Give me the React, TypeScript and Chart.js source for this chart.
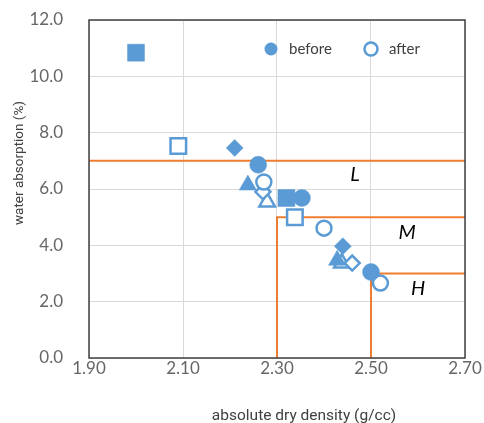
import React, { useEffect, useRef } from "react";
import { Chart, registerables } from "chart.js";

Chart.register(...registerables);

// ---- data ----
const xTickValues = [1.9, 2.1, 2.3, 2.5, 2.7];
const yTickValues = [0, 2, 4, 6, 8, 10, 12];

const beforeCircleX = [2.26, 2.353, 2.5];
const beforeCircleY = [6.86, 5.68, 3.05];
const afterCircleX = [2.272, 2.4, 2.52];
const afterCircleY = [6.25, 4.61, 2.66];

const beforeSquareX = [2.0, 2.32];
const beforeSquareY = [10.84, 5.68];
const afterSquareX = [2.09, 2.338];
const afterSquareY = [7.53, 5.0];

const beforeDiamondX = [2.21, 2.44];
const beforeDiamondY = [7.46, 3.97];
const afterDiamondX = [2.27, 2.46];
const afterDiamondY = [5.9, 3.37];

const beforeTriangleX = [2.238, 2.428];
const beforeTriangleY = [6.14, 3.47];
const afterTriangleX = [2.279, 2.438];
const afterTriangleY = [5.54, 3.37];

const lineLX = [1.9, 2.7];
const lineLY = [7, 7];
const lineMX = [2.3, 2.3, 2.7];
const lineMY = [0, 5, 5];
const lineHX = [2.5, 2.5, 2.7];
const lineHY = [0, 3, 3];

const classLabels = ["L", "M", "H"];
const classLabelX = [2.466, 2.577, 2.6];
const classLabelY = [6.5, 4.47, 2.45];

const legendLabels = ["before", "after"];
const xTitle = "absolute dry density (g/cc)";
const yTitle = "water absorption (%)";

const BLUE = "#5B9BD5";
const ORANGE = "#ED7D31";
const FONT = "Lato, 'Open Sans', sans-serif";
const TITLE_FONT = "Roboto, Lato, sans-serif";

const zip = (xs: number[], ys: number[]) => xs.map((x, i) => ({ x, y: ys[i] }));

export default function App() {
  const ref = useRef<HTMLCanvasElement | null>(null);

  useEffect(() => {
    if (!ref.current) return;

    const pointSet = (label: string, xs: number[], ys: number[], style: string, filled: boolean, r: number) => ({
      label,
      data: zip(xs, ys),
      pointStyle: style,
      pointRadius: r,
      pointHoverRadius: r,
      pointBackgroundColor: filled ? BLUE : "#ffffff",
      pointBorderColor: BLUE,
      pointBorderWidth: filled ? 0.5 : 2.5,
      backgroundColor: filled ? BLUE : "#ffffff",
      borderColor: BLUE,
      showLine: false,
    });
    const lineSet = (label: string, xs: number[], ys: number[]) => ({
      label,
      data: zip(xs, ys),
      showLine: true,
      borderColor: ORANGE,
      borderWidth: 2,
      pointRadius: 0,
      fill: false,
    });

    const overlay = {
      id: "overlay",
      afterDatasetsDraw(chart: any) {
        const { ctx, chartArea: a, scales } = chart;
        ctx.save();
        // plot border
        ctx.strokeStyle = "#404040";
        ctx.lineWidth = 1.5;
        ctx.strokeRect(a.left, a.top, a.right - a.left, a.bottom - a.top);
        // class labels
        ctx.fillStyle = "#000000";
        ctx.font = `italic 20px ${FONT}`;
        ctx.textAlign = "center";
        ctx.textBaseline = "middle";
        classLabels.forEach((t, i) => {
          ctx.fillText(t, scales.x.getPixelForValue(classLabelX[i]), scales.y.getPixelForValue(classLabelY[i]));
        });
        // legend
        const ly = 49;
        const lx = [271, 371];
        ctx.font = `15px ${FONT}`;
        ctx.textAlign = "left";
        legendLabels.forEach((t, i) => {
          ctx.beginPath();
          ctx.arc(lx[i], ly, 6.5, 0, Math.PI * 2);
          if (i === 0) {
            ctx.fillStyle = BLUE;
            ctx.fill();
          } else {
            ctx.fillStyle = "#ffffff";
            ctx.fill();
            ctx.lineWidth = 2.5;
            ctx.strokeStyle = BLUE;
            ctx.stroke();
          }
          ctx.fillStyle = "#404040";
          ctx.fillText(t, lx[i] + 18, ly);
        });
        // axis titles
        ctx.fillStyle = "#404040";
        ctx.textAlign = "center";
        ctx.textBaseline = "middle";
        ctx.font = `15.5px ${TITLE_FONT}`;
        ctx.fillText(xTitle, 304, 416);
        ctx.font = `13.5px ${TITLE_FONT}`;
        ctx.translate(20, 163);
        ctx.rotate(-Math.PI / 2);
        ctx.fillText(yTitle, 0, 0);
        ctx.restore();
      },
    };

    const chart = new Chart(ref.current, {
      type: "scatter",
      data: {
        datasets: [
          pointSet("before", beforeCircleX, beforeCircleY, "circle", true, 8.5),
          pointSet("after", afterCircleX, afterCircleY, "circle", false, 7.5),
          pointSet("before sq", beforeSquareX, beforeSquareY, "rect", true, 12),
          pointSet("after sq", afterSquareX, afterSquareY, "rect", false, 11),
          pointSet("before dia", beforeDiamondX, beforeDiamondY, "rectRot", true, 8.5),
          pointSet("after dia", afterDiamondX, afterDiamondY, "rectRot", false, 7.5),
          pointSet("before tri", beforeTriangleX, beforeTriangleY, "triangle", true, 10),
          pointSet("after tri", afterTriangleX, afterTriangleY, "triangle", false, 9),
          lineSet("L", lineLX, lineLY),
          lineSet("M", lineMX, lineMY),
          lineSet("H", lineHX, lineHY),
        ] as any,
      },
      options: {
        animation: false,
        responsive: true,
        maintainAspectRatio: false,
        layout: { padding: { top: 20, right: 19, left: 0, bottom: 0 } },
        plugins: { legend: { display: false }, tooltip: { enabled: false } },
        scales: {
          x: {
            type: "linear",
            min: 1.9,
            max: 2.7,
            afterBuildTicks: (s: any) => {
              s.ticks = xTickValues.map((v) => ({ value: v }));
            },
            afterFit: (s: any) => {
              s.height = 65;
              s.paddingLeft = 0;
              s.paddingRight = 0;
            },
            ticks: {
              callback: (v: any) => Number(v).toFixed(2),
              color: "#666666",
              font: { family: FONT, size: 17 },
              padding: 0,
            },
            grid: { color: "#d9d9d9", drawTicks: false, lineWidth: 1 },
            border: { display: false },
          },
          y: {
            type: "linear",
            min: 0,
            max: 12,
            afterBuildTicks: (s: any) => {
              s.ticks = yTickValues.map((v) => ({ value: v }));
            },
            afterFit: (s: any) => {
              s.width = 89;
              s.paddingTop = 0;
              s.paddingBottom = 0;
            },
            ticks: {
              callback: (v: any) => Number(v).toFixed(1),
              color: "#666666",
              font: { family: FONT, size: 17 },
              padding: 26,
            },
            grid: { color: "#d9d9d9", drawTicks: false, lineWidth: 1 },
            border: { display: false },
          },
        },
      } as any,
      plugins: [overlay],
    });
    return () => chart.destroy();
  }, []);

  return (
    <div style={{ position: "absolute", left: 0, top: 0, width: 484, height: 423, background: "#fff" }}>
      <canvas ref={ref} />
    </div>
  );
}
